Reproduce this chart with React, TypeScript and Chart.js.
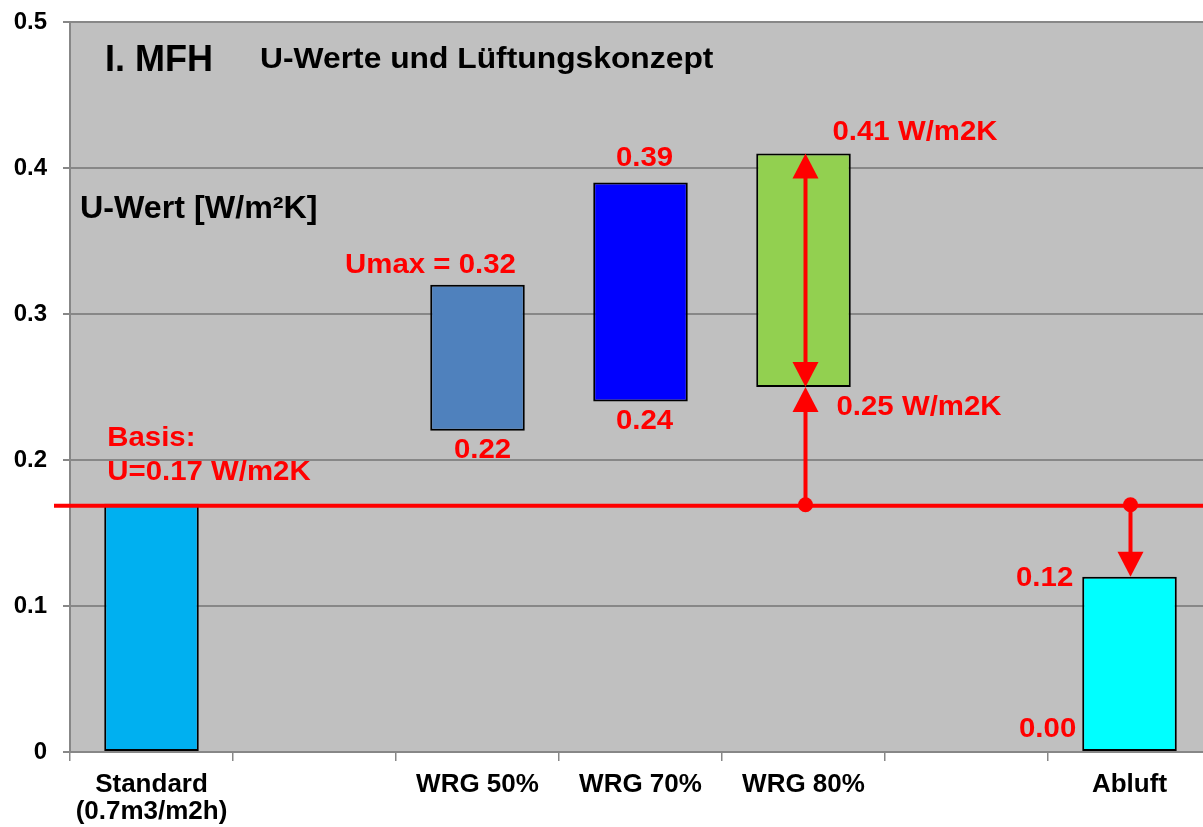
import React, { useEffect, useRef } from "react";
import { Chart, registerables } from "chart.js";

Chart.register(...registerables);

// ---- data ----
const categories: (string | string[])[] = [
  ["Standard", "(0.7m3/m2h)"],
  "",
  "WRG 50%",
  "WRG 70%",
  "WRG 80%",
  "",
  "Abluft",
];
const uMin: (number | null)[] = [0, null, 0.22, 0.24, 0.25, null, 0];
const uMax: (number | null)[] = [0.17, null, 0.32, 0.39, 0.41, null, 0.12];
const barColors = ["#00B0F0", "#C0C0C0", "#4F81BD", "#0000FF", "#92D050", "#C0C0C0", "#00FFFF"];
const yTicks = [0, 0.1, 0.2, 0.3, 0.4, 0.5];
const basisU = 0.17;
const titleMain = "I. MFH";
const titleSub = "U-Werte und Lüftungskonzept";
const yAxisTitle = "U-Wert [W/m²K]";

const FONT = '"Liberation Sans", Arial, sans-serif';
const RED = "#FF0000";
const GRID = "#878787";

const annotationPlugin = {
  id: "annotations",
  beforeDraw(chart: any) {
    const { ctx, chartArea } = chart;
    ctx.save();
    ctx.fillStyle = "#C0C0C0";
    ctx.fillRect(chartArea.left, chartArea.top, chartArea.right - chartArea.left, chartArea.bottom - chartArea.top);
    ctx.restore();
  },
  afterDatasetsDraw(chart: any) {
    const { ctx, chartArea } = chart;
    const xs = chart.scales.x;
    const ys = chart.scales.y;
    const meta = chart.getDatasetMeta(0);
    const barX = (i: number) => xs.getPixelForValue(i);
    const barLeft = (i: number) => meta.data[i].x - meta.data[i].width / 2;
    const Y = (v: number) => ys.getPixelForValue(v);

    // text with a slight horizontal stretch, as in the reference
    const text = (s: string, x: number, y: number, align: CanvasTextAlign, sx = 1.05) => {
      ctx.save();
      ctx.translate(x, y);
      ctx.scale(sx, 1);
      ctx.textAlign = align;
      ctx.fillText(s, 0, 0);
      ctx.restore();
    };

    ctx.save();
    // titles
    ctx.fillStyle = "#000";
    ctx.textBaseline = "alphabetic";
    ctx.font = `bold 36px ${FONT}`;
    text(titleMain, chartArea.left + 35, 71, "left", 1.0);
    ctx.font = `bold 30px ${FONT}`;
    text(titleSub, chartArea.left + 190, 68, "left", 1.06);
    ctx.font = `bold 31px ${FONT}`;
    text(yAxisTitle, chartArea.left + 10, 218, "left", 1.04);

    // basis line
    const yb = Y(basisU);
    ctx.strokeStyle = RED;
    ctx.fillStyle = RED;
    ctx.lineWidth = 4;
    ctx.beginPath();
    ctx.moveTo(chartArea.left - 16, yb + 2);
    ctx.lineTo(chartArea.right, yb + 2);
    ctx.stroke();

    const head = (x: number, tipY: number, up: boolean) => {
      const h = 25;
      const w = 13;
      const baseY = up ? tipY + h : tipY - h;
      ctx.beginPath();
      ctx.moveTo(x, tipY);
      ctx.lineTo(x - w, baseY);
      ctx.lineTo(x + w, baseY);
      ctx.closePath();
      ctx.fill();
    };
    const vline = (x: number, y1: number, y2: number) => {
      ctx.beginPath();
      ctx.moveTo(x, y1);
      ctx.lineTo(x, y2);
      ctx.stroke();
    };
    const dot = (x: number, y: number) => {
      ctx.beginPath();
      ctx.arc(x, y, 7.5, 0, Math.PI * 2);
      ctx.fill();
    };

    // WRG 80% arrows
    const i80 = 4;
    const ax = barX(i80) + 2;
    const lo80 = uMin[i80] as number;
    const hi80 = uMax[i80] as number;
    vline(ax, Y(hi80) + 20, Y(lo80) - 20);
    head(ax, Y(hi80), true);
    head(ax, Y(lo80), false);
    vline(ax, yb + 2, Y(lo80) + 20);
    head(ax, Y(lo80), true);
    dot(ax, yb + 1);

    // Abluft arrow
    const iA = 6;
    const bx = barX(iA) + 1;
    const hiA = uMax[iA] as number;
    vline(bx, yb + 2, Y(hiA) - 20);
    head(bx, Y(hiA), false);
    dot(bx, yb + 1);

    // red labels
    ctx.font = `bold 28px ${FONT}`;
    ctx.fillStyle = RED;
    ctx.textBaseline = "alphabetic";
    const fmt = (v: number) => v.toFixed(2);

    text("Basis:", barLeft(0) + 3, yb - 58, "left");
    text(`U=${fmt(basisU)} W/m2K`, barLeft(0) + 3, yb - 24, "left");

    text(`Umax = ${fmt(uMax[2] as number)}`, barX(2) - 47, Y(uMax[2] as number) - 12, "center");
    text(fmt(uMin[2] as number), barX(2) + 5, Y(uMin[2] as number) + 27, "center");
    text(fmt(uMin[3] as number), barX(3) + 4, Y(uMin[3] as number) + 27, "center");
    text(fmt(uMax[3] as number), barX(3) + 4, Y(uMax[3] as number) - 17, "center");

    text(`${fmt(hi80)} W/m2K`, barX(i80) + 29, Y(hi80) - 13, "left");
    text(`${fmt(lo80)} W/m2K`, barX(i80) + 33, Y(lo80) + 28, "left");

    text(fmt(hiA), barLeft(iA) - 9, Y(hiA) + 9, "right");
    text(fmt(uMin[iA] as number), barLeft(iA) - 6, Y(uMin[iA] as number) - 15, "right");

    ctx.restore();
  },
};

export default function App() {
  const ref = useRef<HTMLCanvasElement>(null);

  useEffect(() => {
    if (!ref.current) return;
    const data = uMin.map((lo, i) => (lo == null ? null : [lo, uMax[i] as number]));
    const chart = new Chart(ref.current, {
      type: "bar",
      data: {
        labels: categories,
        datasets: [
          {
            data: data as any,
            backgroundColor: barColors,
            borderColor: "#000000",
            borderWidth: 2,
            borderSkipped: false,
            barPercentage: 0.58,
            categoryPercentage: 1,
          },
        ],
      },
      options: {
        responsive: false,
        animation: false,
        devicePixelRatio: 1,
        layout: { padding: { top: 22, left: 0, right: 0, bottom: 0 } },
        plugins: {
          legend: { display: false },
          tooltip: { enabled: false },
          title: { display: false },
        },
        scales: {
          x: {
            type: "category",
            offset: true,
            grid: {
              drawOnChartArea: false,
              drawTicks: true,
              offset: true,
              tickLength: 9,
              color: GRID,
              lineWidth: 1.5,
            },
            border: { color: GRID, width: 2 },
            ticks: {
              color: "#000",
              font: { family: FONT, size: 26, weight: "bold", lineHeight: 1.04 },
              padding: 10,
              maxRotation: 0,
              minRotation: 0,
              autoSkip: false,
            },
            afterFit: (s: any) => {
              s.height = 75;
              s.paddingLeft = 0;
              s.paddingRight = 0;
            },
          },
          y: {
            min: 0,
            max: 0.5,
            afterBuildTicks: (s: any) => {
              s.ticks = yTicks.map((v) => ({ value: v }));
            },
            ticks: {
              color: "#000",
              font: { family: FONT, size: 24, weight: "bold" },
              padding: 16,
              callback: (v: any) => (Number(v) === 0 ? "0" : Number(v).toFixed(1)),
            },
            grid: {
              color: GRID,
              lineWidth: 2,
              tickLength: 7,
              drawTicks: true,
            },
            border: { color: GRID, width: 2 },
            afterFit: (s: any) => {
              s.width = 70;
              s.paddingTop = 0;
              s.paddingBottom = 0;
            },
          },
        },
      },
      plugins: [annotationPlugin],
    });
    return () => chart.destroy();
  }, []);

  return (
    <div
      style={{
        position: "absolute",
        left: 0,
        top: 0,
        width: 1203,
        height: 827,
        overflow: "hidden",
        background: "#fff",
      }}
    >
      <canvas ref={ref} width={1211} height={827} style={{ display: "block", width: 1211, height: 827 }} />
    </div>
  );
}
